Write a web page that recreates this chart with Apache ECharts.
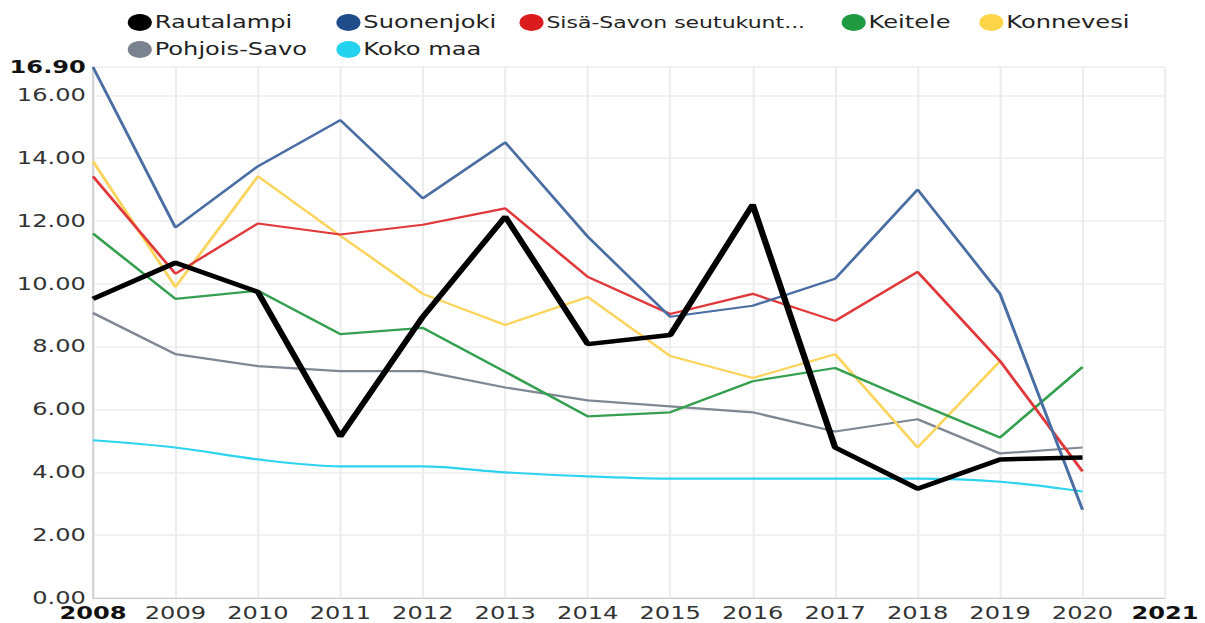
<!DOCTYPE html>
<html><head><meta charset="utf-8">
<script src="https://cdn.jsdelivr.net/npm/echarts@6/dist/echarts.min.js"></script>
<style>
html,body{margin:0;padding:0;background:#fff;overflow:hidden}
#wrap{width:1205px;height:623px;overflow:hidden}
#c{width:849px;height:623px;transform:scaleX(1.4193);transform-origin:0 0}
</style>
</head><body><div id="wrap"><div id="c"></div></div>
<script>
const years = [2008,2009,2010,2011,2012,2013,2014,2015,2016,2017,2018,2019,2020];
const seriesNames = ['Rautalampi','Suonenjoki','Sisä-Savon seutukunta','Keitele','Konnevesi','Pohjois-Savo','Koko maa'];
const rautalampi = [9.52,10.67,9.74,5.14,8.95,12.14,8.08,8.37,12.52,4.79,3.48,4.41,4.47];
const suonenjoki = [16.9,11.79,13.74,15.21,12.72,14.5,11.5,8.95,9.3,10.16,13.0,9.68,2.81];
const sisaSavo = [13.42,10.32,11.92,11.57,11.88,12.4,10.22,9.04,9.68,8.82,10.38,7.54,4.03];
const keitele = [11.6,9.52,9.78,8.4,8.6,7.2,5.78,5.91,6.9,7.32,6.2,5.11,7.35];
const konnevesi = [13.9,9.9,13.42,11.53,9.68,8.69,9.58,7.7,7.0,7.76,4.79,7.54,null];
const pohjoisSavo = [9.07,7.76,7.38,7.22,7.22,6.7,6.29,6.1,5.91,5.3,5.69,4.6,4.79];
const kokoMaa = [5.02,4.79,4.41,4.19,4.19,4.0,3.87,3.8,3.8,3.8,3.8,3.7,3.39];
const yMin = 0, yMax = 16.9, yStep = 2;
const xMin = 2008, xMax = 2021;

const values = [rautalampi,suonenjoki,sisaSavo,keitele,konnevesi,pohjoisSavo,kokoMaa];
const lineColors = ['#000000','#4a6ea3','#e0393b','#34a04f','#fad45c','#7f8793','#2dd3ef'];
const iconColors = ['#000000','#1f4d8a','#da1c1f','#1f9a40','#fdd447','#7a828f','#22d2ee'];
const widths = [4.5,2.2,2.2,2.2,2.2,2.2,2.2];
const legendPos = [[85,9],[232,9],[361,9],[588,9],[685,9],[85,36],[232,36]];
const legendFont = [17,17,15.5,17,17,17,17];
const font = 'DejaVu Sans';

const series = values.map((v,i)=>({
  name: seriesNames[i], type:'line', symbol:'none', smooth: i===6 ? 0.3 : false,
  data: years.map((y,j)=>[y,v[j]]),
  color: iconColors[i],
  lineStyle:{color:lineColors[i], width:widths[i]},
  z: i===0 ? 10 : 5-i*0.1
}));

const legends = seriesNames.map((n,i)=>({
  data:[n], left:legendPos[i][0], top:legendPos[i][1], itemWidth:17, itemHeight:17,
  icon:'circle', itemGap:0,
  textStyle:{fontFamily:font, fontSize:legendFont[i], color:'#222', padding:[0,0,0,-3]},
  formatter: name => name.length > 20 ? name.slice(0,20)+'...' : name
}));

const isMinMaxX = v => v===xMin || v===xMax;
const isMaxY = v => Math.abs(v-yMax)<1e-9;
const xl = {fontFamily:font, fontSize:17, color:'#333', lineHeight:14};
const xb = {fontFamily:font, fontSize:17, color:'#111', fontWeight:'bold', lineHeight:14};
const yl = {fontFamily:font, fontSize:17, color:'#333', lineHeight:13};
const yb = {fontFamily:font, fontSize:17, color:'#111', fontWeight:'bold', lineHeight:13};

const chart = echarts.init(document.getElementById('c'), null, {renderer:'svg', width:849, height:623});
chart.setOption({
  animation:false,
  legend: legends,
  grid:{left:65.5, right:28.2, top:67, bottom:25, containLabel:false},
  xAxis:[{type:'value', min:xMin, max:xMax, interval:1,
    axisLine:{lineStyle:{color:'#c8c8c8'}}, axisTick:{show:false},
    splitLine:{lineStyle:{color:'#ececec', width:1.5}},
    axisLabel:Object.assign({margin:8, formatter: v => isMinMaxX(v) ? '' : String(v)}, xl)},
   {type:'value', min:xMin, max:xMax, interval:1, position:'bottom',
    axisLine:{show:false}, axisTick:{show:false}, splitLine:{show:false},
    axisLabel:Object.assign({margin:8, formatter: v => isMinMaxX(v) ? String(v) : ''}, xb)}],
  yAxis:[{type:'value', min:yMin, max:yMax, interval:yStep,
    axisLine:{show:true, lineStyle:{color:'#c8c8c8'}}, axisTick:{show:false},
    splitLine:{lineStyle:{color:'#ececec', width:1.5}},
    axisLabel:Object.assign({margin:5, formatter: v => isMaxY(v) ? '' : v.toFixed(2)}, yl)},
   {type:'value', min:yMin, max:yMax, interval:yStep, position:'left',
    axisLine:{show:false}, axisTick:{show:false}, splitLine:{show:false},
    axisLabel:Object.assign({margin:5, formatter: v => isMaxY(v) ? v.toFixed(2) : ''}, yb)}],
  series: series
});
</script></body></html>
